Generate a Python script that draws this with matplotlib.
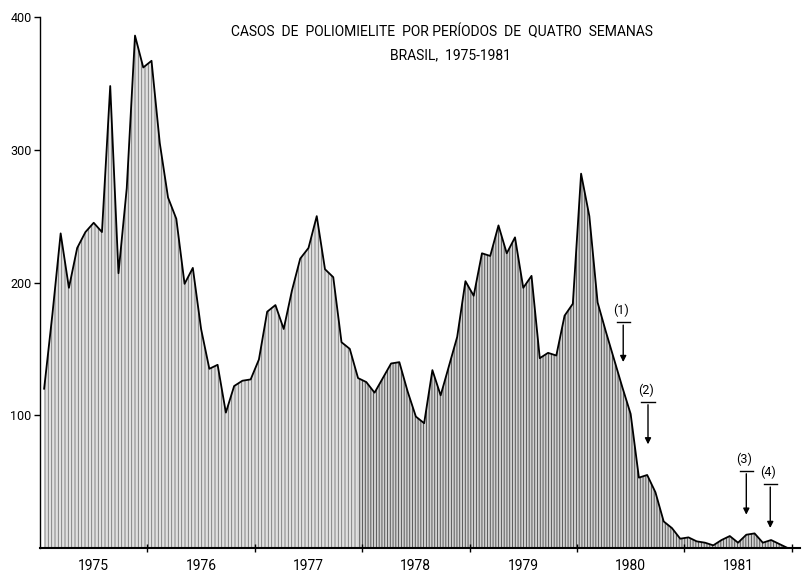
# Casos de poliomielite por periodos de quatro semanas - Brasil 1975-1981

import numpy as np
import matplotlib
matplotlib.use('Agg')
import matplotlib.pyplot as plt

plt.rcParams['font.family'] = ['DejaVu Sans Condensed', 'Roboto', 'DejaVu Sans']
plt.rcParams['hatch.linewidth'] = 0.6

anos = ['1975', '1976', '1977', '1978', '1979', '1980', '1981']
periodos_por_ano = 13

# casos por periodo de 4 semanas (13 periodos por ano)
casos = [120, 176, 237, 196, 226, 238, 245, 238, 348, 207, 271, 386, 362,   # 1975
         367, 305, 264, 248, 199, 211, 165, 135, 138, 102, 122, 126,        # 1976
         127, 142, 178, 183, 165, 194, 218, 226, 250, 210, 204, 155, 150,   # 1977
         128, 125, 117, 128, 139, 140, 118, 99, 94, 134, 115, 137, 159,     # 1978
         201, 190, 222, 220, 243, 222, 234, 196, 205, 143, 147, 145, 175,   # 1979
         184, 282, 250, 185, 163, 142, 121, 101, 53, 55, 42, 20, 15,        # 1980
         7, 8, 5, 4, 2, 6, 9, 4, 10, 11, 4, 6, 3, 0]                        # 1981

# marcas (1)-(4): periodo, inicio da seta, ponta da seta
marcas = ['(1)', '(2)', '(3)', '(4)']
marcas_x = [70.1, 73.1, 85.0, 87.9]
marcas_topo = [170, 110, 58, 48]
marcas_ponta = [138, 76, 23, 13]

x = np.arange(len(casos))
y = np.array(casos)

fig = plt.figure(figsize=(8.04, 5.8), dpi=100)
ax = fig.add_axes([40/804, 1 - 548/580, 760/804, 531/580])

# sombreado vertical, mais claro no inicio
ax.fill_between(x, y, where=x <= 38, facecolor='0.88', edgecolor='0.45',
                hatch='|||||', linewidth=0)
ax.fill_between(x, y, where=x >= 38, facecolor='0.82', edgecolor='0.28',
                hatch='||||||', linewidth=0)
ax.plot(x, y, color='k', lw=1.3)

for lab, mx, t, p in zip(marcas, marcas_x, marcas_topo, marcas_ponta):
    ax.plot([mx - 0.8, mx + 0.8], [t, t], color='k', lw=1)
    ax.annotate('', xy=(mx, p), xytext=(mx, t),
                arrowprops=dict(arrowstyle='-|>', color='k', lw=1, mutation_scale=9))
    ax.text(mx - 0.3, t + 4, lab, ha='center', va='bottom', fontsize=9)

ax.set_xlim(-0.5, 91.5)
ax.set_ylim(0, 400)

ax.spines['top'].set_visible(False)
ax.spines['right'].set_visible(False)
ax.spines['left'].set_linewidth(1)
ax.spines['bottom'].set_linewidth(1.5)

ax.set_yticks([100, 200, 300, 400])
ax.set_yticklabels(['100', '200', '300', '400'], fontsize=9)
ax.tick_params(axis='y', length=4, width=1, pad=2)

limites = [periodos_por_ano * k - 0.5 for k in range(1, len(anos) + 1)]
centros = [periodos_por_ano * k + 6 for k in range(len(anos))]
ax.set_xticks(limites)
ax.set_xticklabels([])
ax.set_xticks(centros, minor=True)
ax.set_xticklabels(anos, minor=True, fontsize=10)
ax.tick_params(axis='x', which='major', length=6, width=1, direction='inout')
ax.tick_params(axis='x', which='minor', length=0, pad=8)

fig.text(442/804, 1 - 32/580,
         'CASOS  DE  POLIOMIELITE  POR PERÍODOS  DE  QUATRO  SEMANAS',
         ha='center', va='center', fontsize=10)
fig.text(450/804, 1 - 55/580, 'BRASIL,  1975-1981',
         ha='center', va='center', fontsize=10)

fig.savefig('out.png', dpi=100)
